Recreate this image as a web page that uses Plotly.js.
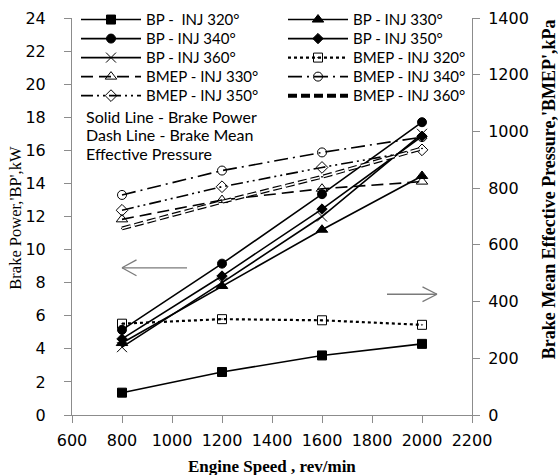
<!DOCTYPE html>
<html><head><meta charset="utf-8">
<script src="https://cdn.plot.ly/plotly-3.0.1.min.js"></script>
<style>html,body{margin:0;padding:0;background:#fff}</style>
</head><body><div id="chart" style="width:558px;height:475px"></div>
<script>
// Engine speed, rev/min
const speed = [800, 1200, 1600, 2000];
// Brake power, kW
const bp320 = [1.35, 2.6, 3.6, 4.3];
const bp330 = [4.35, 7.8, 11.2, 14.45];
const bp340 = [5.15, 9.15, 13.35, 17.7];
const bp350 = [4.6, 8.4, 12.45, 16.85];
const bp360 = [4.1, 8.0, 12.0, 17.0];
// Brake mean effective pressure, kPa
const bmep320 = [322, 338, 334, 318];
const bmep330 = [690, 758, 798, 823];
const bmep340 = [776, 862, 926, 980];
const bmep350 = [722, 805, 873, 935];
const bmep360 = [658, 752, 840, 940];
const names = ['BP -  INJ 320°','BP - INJ 330°','BP - INJ 340°','BP - INJ 350°','BP - INJ 360°',
  'BMEP - INJ 320°','BMEP - INJ 330°','BMEP - INJ 340°','BMEP - INJ 350°','BMEP - INJ 360°'];
const notes = ['Solid Line - Brake Power','Dash Line - Brake Mean','Effective Pressure'];
const xTitle = '<b>Engine Speed , rev/min</b>';
const yTitle = "Brake Power,'BP',kW";
const y2Title = "<b>Brake Mean Effective Pressure,'BMEP',kPa</b>";

const K = '#000';
const legIds = ['legend','legend2','legend3','legend4','legend5','legend6','legend7','legend8','legend9','legend10'];
function tr(i, y, sym, size, dash, width, yaxis) {
  return {x: speed, y: y, name: names[i], mode: 'lines+markers', type: 'scatter',
    line: {color: K, width: width, dash: dash},
    marker: {symbol: sym, size: size, color: K, line: {color: K, width: 1}},
    legend: legIds[i], yaxis: yaxis || 'y'};
}
const traces = [
  tr(0, bp320, 'square', 9, 'solid', 1.6),
  tr(1, bp330, 'triangle-up', 10, 'solid', 1.6),
  tr(2, bp340, 'circle', 9, 'solid', 1.6),
  tr(3, bp350, 'diamond', 8, 'solid', 1.6),
  tr(4, bp360, 'x-thin-open', 10, 'solid', 1.6),
  tr(5, bmep320, 'square-open-dot', 9, 'dot', 2.2, 'y2'),
  tr(6, bmep330, 'triangle-up-open', 10, '12px,6px', 1.6, 'y2'),
  tr(7, bmep340, 'circle-open', 9, '14px,5px,2px,5px', 1.6, 'y2'),
  tr(8, bmep350, 'diamond-open', 9, '12px,4px,2px,4px,2px,4px', 1.6, 'y2'),
  tr(9, bmep360, 'circle', 1, '9px,4px', 4, 'y2'),
  {x: speed, y: bmep360, mode: 'lines', yaxis: 'y2', showlegend: false, hoverinfo: 'skip',
   line: {color: '#fff', width: 1.6, dash: '9px,4px'}}
];

const tickFont = {family: 'DejaVu Sans, sans-serif', size: 16, color: '#000'};
const axCommon = {showgrid: false, zeroline: false, showline: true, linecolor: '#8c8c8c', linewidth: 1,
  ticks: 'outside', ticklen: 7, tickcolor: '#8c8c8c', tickfont: tickFont};

const annots = notes.map((t, i) => ({text: t, xref: 'paper', yref: 'paper', x: 0.03, y: [0.753, 0.706, 0.659][i],
  xanchor: 'left', yanchor: 'middle', showarrow: false, font: {family: 'Lato, sans-serif', size: 16, color: '#000'}}));
annots.push({text: xTitle, xref: 'paper', yref: 'paper', x: 0.5, y: -0.13, xanchor: 'center', yanchor: 'middle',
  showarrow: false, font: {family: 'Liberation Serif, serif', size: 17, color: '#000'}});
annots.push({text: yTitle, xref: 'paper', yref: 'paper', x: -0.14, y: 0.497, xanchor: 'center', yanchor: 'middle',
  textangle: -90, showarrow: false, font: {family: 'Liberation Serif, serif', size: 16.5, color: '#000'}});
annots.push({text: y2Title, xref: 'paper', yref: 'paper', x: 1.193, y: 0.569, xanchor: 'center', yanchor: 'middle',
  textangle: -90, showarrow: false, font: {family: 'Liberation Serif, serif', size: 18, color: '#000'}});

const G = '#7a7a7a';
function seg(x0, y0, x1, y1) { return {type: 'line', xref: 'x', yref: 'y', x0: x0, y0: y0, x1: x1, y1: y1, line: {color: G, width: 1.3}}; }
const shapes = [
  seg(800, 8.9, 1060, 8.9), seg(800, 8.9, 858, 9.38), seg(800, 8.9, 858, 8.42),
  seg(1860, 7.3, 2060, 7.3), seg(2060, 7.3, 2002, 7.75), seg(2060, 7.3, 2002, 6.85)
];

const legFont = {family: 'Lato, sans-serif', size: 15, color: '#000'};
const layout = {
  width: 558, height: 475, paper_bgcolor: '#fff', plot_bgcolor: '#fff',
  margin: {l: 72, r: 86, t: 18, b: 60, autoexpand: false},
  showlegend: true,
  xaxis: Object.assign({}, axCommon, {range: [600, 2200], dtick: 200, tick0: 600, ticklabelstandoff: 4, automargin: false}),
  yaxis: Object.assign({}, axCommon, {range: [0, 24], dtick: 2, tick0: 0, ticklabelstandoff: 15, automargin: false}),
  yaxis2: Object.assign({}, axCommon, {range: [0, 1400], dtick: 200, tick0: 0, overlaying: 'y', side: 'right', ticklabelstandoff: 5, automargin: false}),
  annotations: annots,
  shapes: shapes
};
legIds.forEach((id, i) => {
  const col = i % 2, row = Math.floor(i / 2);
  layout[id] = {x: col ? 0.5275 : 0.01, y: 1.037 - row * 0.0479, xanchor: 'left', yanchor: 'top',
    font: legFont, bgcolor: 'rgba(0,0,0,0)', itemwidth: 60};
});
Plotly.newPlot('chart', traces, layout, {displayModeBar: false, staticPlot: true});
</script></body></html>
